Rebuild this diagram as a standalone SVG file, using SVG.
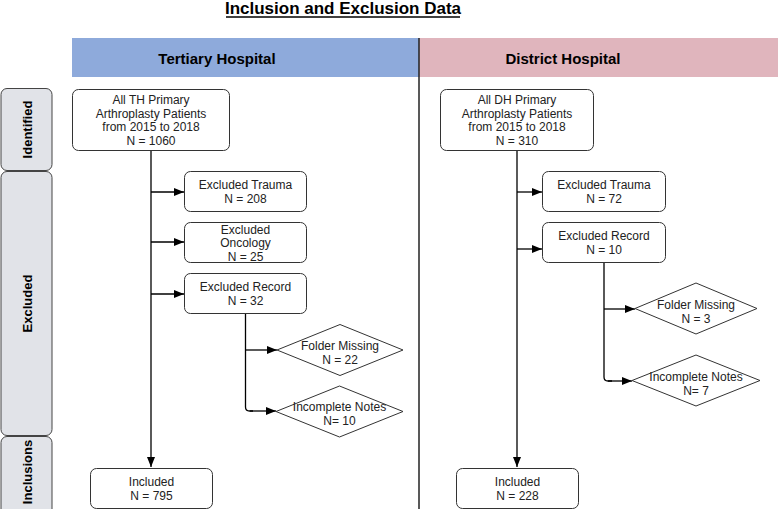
<svg xmlns="http://www.w3.org/2000/svg" width="778" height="509" viewBox="0 0 778 509">
<defs>
<marker id="ah" markerWidth="10" markerHeight="8" refX="10" refY="4" orient="auto" markerUnits="userSpaceOnUse">
<path d="M0,0 L10,4 L0,8 Z" fill="#000"/>
</marker>
<style>
.t{font-family:"Liberation Sans",Arial,sans-serif;font-size:12px;fill:#222;text-anchor:middle}
.b{font-family:"Liberation Sans",Arial,sans-serif;font-weight:bold;text-anchor:middle;fill:#000}
.box{fill:#fff;stroke:#333;stroke-width:1}
.lane{fill:#e1e3e8;stroke:#444;stroke-width:1}
.c{fill:none;stroke:#000;stroke-width:1.3}
.ca{fill:none;stroke:#000;stroke-width:1.3;marker-end:url(#ah)}
</style>
</defs>
<rect width="778" height="509" fill="#fff"/>
<g id="title">
<text class="b" x="343" y="14" font-size="17">Inclusion and Exclusion Data</text>
<line x1="226" y1="17" x2="460" y2="17" stroke="#000" stroke-width="1.3"/>
</g>
<g id="header-th">
<rect x="72" y="38" width="347" height="39" fill="#8eaadb"/>
<text class="b" x="217" y="64" font-size="15">Tertiary Hospital</text>
</g>
<g id="header-dh">
<rect x="419" y="38" width="359" height="39" fill="#e0b5bd"/>
<text class="b" x="563" y="64" font-size="15">District Hospital</text>
</g>
<line x1="419" y1="38" x2="419" y2="509" stroke="#222" stroke-width="1.5"/>
<g id="lane-identified">
<rect class="lane" x="1" y="88.5" width="51" height="82" rx="6"/>
<text class="b" font-size="13" transform="translate(31.5,129.5) rotate(-90)">Identified</text>
</g>
<g id="lane-excluded">
<rect class="lane" x="1" y="171.5" width="51" height="264" rx="6"/>
<text class="b" font-size="13" transform="translate(31.5,303.5) rotate(-90)">Excluded</text>
</g>
<g id="lane-inclusions">
<rect class="lane" x="1" y="436.5" width="51" height="80" rx="6"/>
<text class="b" font-size="13" transform="translate(31.5,472) rotate(-90)">Inclusions</text>
</g>
<g id="connectors">
<path class="ca" d="M151,150 V467"/>
<path class="ca" d="M151,192 H184"/>
<path class="ca" d="M151,242 H184"/>
<path class="ca" d="M151,294 H184"/>
<path class="c" d="M245.5,314 V407 Q245.5,411 249.5,411 H253"/>
<path class="ca" d="M245.5,350 H277"/>
<path class="ca" d="M250,411 H276"/>
<path class="ca" d="M517,150 V467"/>
<path class="ca" d="M517,192 H542"/>
<path class="ca" d="M517,249 H542"/>
<path class="c" d="M604,263 V377 Q604,381 608,381 H612"/>
<path class="ca" d="M604,309 H635"/>
<path class="ca" d="M608,381 H632"/>
</g>
<g id="th-all">
<rect class="box" x="72.5" y="89.5" width="157" height="61" rx="6"/>
<text class="t" x="151" y="104">All TH Primary</text>
<text class="t" x="151" y="117.5">Arthroplasty Patients</text>
<text class="t" x="151" y="131">from 2015 to 2018</text>
<text class="t" x="151" y="144.5">N = 1060</text>
</g>
<g id="th-trauma">
<rect class="box" x="184.5" y="171.5" width="122" height="40" rx="6"/>
<text class="t" x="245.5" y="189">Excluded Trauma</text>
<text class="t" x="245.5" y="202.5">N = 208</text>
</g>
<g id="th-oncology">
<rect class="box" x="184.5" y="222.5" width="122" height="40" rx="6"/>
<text class="t" x="245.5" y="233.5">Excluded</text>
<text class="t" x="245.5" y="247">Oncology</text>
<text class="t" x="245.5" y="260.5">N = 25</text>
</g>
<g id="th-record">
<rect class="box" x="184.5" y="273.5" width="122" height="40" rx="6"/>
<text class="t" x="245.5" y="291">Excluded Record</text>
<text class="t" x="245.5" y="304.5">N = 32</text>
</g>
<g id="th-folder">
<polygon class="box" points="277,350 340,324.5 403,350 340,375.5"/>
<text class="t" x="340" y="350">Folder Missing</text>
<text class="t" x="340" y="363.5">N = 22</text>
</g>
<g id="th-notes">
<polygon class="box" points="276,411.5 339.5,386 403,411.5 339.5,437"/>
<text class="t" x="339.5" y="411">Incomplete Notes</text>
<text class="t" x="339.5" y="424.5">N= 10</text>
</g>
<g id="th-included">
<rect class="box" x="90.5" y="468.5" width="122" height="40" rx="6"/>
<text class="t" x="151.5" y="486">Included</text>
<text class="t" x="151.5" y="500">N = 795</text>
</g>
<g id="dh-all">
<rect class="box" x="440.5" y="89.5" width="153" height="61" rx="6"/>
<text class="t" x="517" y="104">All DH Primary</text>
<text class="t" x="517" y="117.5">Arthroplasty Patients</text>
<text class="t" x="517" y="131">from 2015 to 2018</text>
<text class="t" x="517" y="144.5">N = 310</text>
</g>
<g id="dh-trauma">
<rect class="box" x="542.5" y="171.5" width="123" height="40" rx="6"/>
<text class="t" x="604" y="189">Excluded Trauma</text>
<text class="t" x="604" y="202.5">N = 72</text>
</g>
<g id="dh-record">
<rect class="box" x="542.5" y="222.5" width="123" height="40" rx="6"/>
<text class="t" x="604" y="240">Excluded Record</text>
<text class="t" x="604" y="254">N = 10</text>
</g>
<g id="dh-folder">
<polygon class="box" points="635,308.5 696,283 757,308.5 696,334"/>
<text class="t" x="696" y="309">Folder Missing</text>
<text class="t" x="696" y="322.5">N = 3</text>
</g>
<g id="dh-notes">
<polygon class="box" points="632,380.5 696,355 760,380.5 696,406"/>
<text class="t" x="696" y="381">Incomplete Notes</text>
<text class="t" x="696" y="395">N= 7</text>
</g>
<g id="dh-included">
<rect class="box" x="456.5" y="468.5" width="122" height="40" rx="6"/>
<text class="t" x="517.5" y="486">Included</text>
<text class="t" x="517.5" y="500">N = 228</text>
</g>
</svg>
